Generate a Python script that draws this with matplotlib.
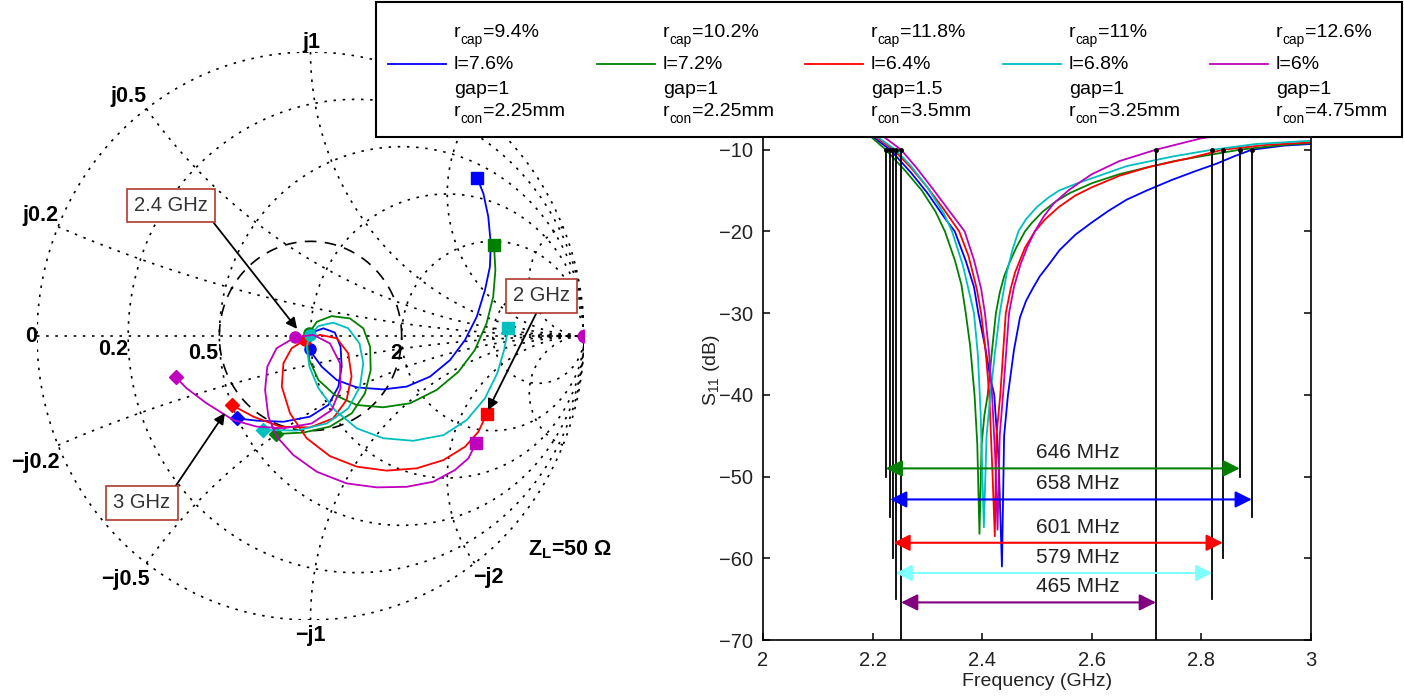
import numpy as np
import matplotlib
matplotlib.use("Agg")
import matplotlib.pyplot as plt
from matplotlib.patches import Rectangle
from matplotlib.lines import Line2D

plt.rcParams["font.family"] = ["Liberation Sans", "DejaVu Sans"]
plt.rcParams["mathtext.fontset"] = "custom"
plt.rcParams["mathtext.rm"] = "Liberation Sans"
plt.rcParams["mathtext.bf"] = "Liberation Sans:bold"
plt.rcParams["mathtext.it"] = "Liberation Sans:italic"

# ---- data (order: blue, green, red, cyan, magenta) ----
colors = ["#0000ff", "#008000", "#ff0000", "#00bfbf", "#bf00bf"]
rcap = ["9.4%", "10.2%", "11.8%", "11%", "12.6%"]
l_pct = ["7.6%", "7.2%", "6.4%", "6.8%", "6%"]
gap = ["1", "1", "1.5", "1", "1"]
rcon = ["2.25mm", "2.25mm", "3.5mm", "3.25mm", "4.75mm"]

# S11 (dB) vs frequency (GHz)
blue_f = [2.00, 2.10, 2.20, 2.232, 2.27, 2.30, 2.33, 2.350, 2.370, 2.385,
          2.393, 2.405, 2.415, 2.422, 2.430, 2.436, 2.440, 2.447, 2.458, 2.469,
          2.480, 2.492, 2.505, 2.52, 2.541, 2.570, 2.598, 2.63, 2.664, 2.70,
          2.746, 2.79, 2.828, 2.86, 2.892, 2.95, 3.00]
blue_db = [-2.8, -4.8, -8.4, -10.0, -12.8, -15.3, -18.2, -20.0, -23.6, -26.8,
           -30.0, -34.0, -38.0, -40.0, -48.0, -61.0, -45.0, -40.0, -34.5, -30.5,
           -28.5, -27.0, -25.5, -24.2, -22.3, -20.4, -19.0, -17.5, -16.1, -15.0,
           -13.7, -12.6, -11.7, -10.8, -10.0, -9.5, -9.3]
green_f = [2.00, 2.10, 2.19, 2.224, 2.26, 2.29, 2.315, 2.332, 2.350, 2.362,
           2.370, 2.378, 2.386, 2.391, 2.395, 2.399, 2.404, 2.410, 2.418, 2.425,
           2.432, 2.440, 2.450, 2.462, 2.478, 2.49, 2.51, 2.535, 2.56, 2.60,
           2.65, 2.705, 2.75, 2.80, 2.87, 2.95, 3.00]
green_db = [-3.0, -5.0, -8.0, -10.0, -12.6, -15.0, -17.6, -20.0, -23.5, -26.5,
            -30.0, -34.0, -40.0, -46.0, -57.0, -46.0, -42.5, -40.0, -34.5, -30.0,
            -27.5, -25.5, -23.8, -22.0, -20.0, -19.0, -17.6, -16.3, -15.3, -14.1,
            -13.0, -12.1, -11.4, -10.8, -10.0, -9.4, -9.2]
red_f = [2.00, 2.10, 2.205, 2.238, 2.27, 2.30, 2.33, 2.358, 2.375, 2.390,
         2.398, 2.406, 2.413, 2.419, 2.423, 2.426, 2.433, 2.443, 2.452, 2.460,
         2.478, 2.496, 2.515, 2.54, 2.57, 2.60, 2.65, 2.705, 2.78, 2.839,
         2.92, 3.00]
red_db = [-2.6, -4.6, -8.4, -10.0, -12.2, -14.6, -17.3, -20.0, -23.0, -27.0,
          -30.0, -34.5, -40.0, -50.0, -57.3, -45.0, -40.0, -30.0, -27.0, -25.0,
          -22.0, -20.0, -18.5, -17.0, -15.6, -14.6, -13.2, -12.1, -11.0, -10.0,
          -9.4, -9.1]
cyan_f = [2.00, 2.10, 2.208, 2.242, 2.27, 2.30, 2.33, 2.345, 2.365, 2.385,
          2.392, 2.397, 2.403, 2.408, 2.415, 2.423, 2.432, 2.445, 2.455, 2.466,
          2.48, 2.50, 2.52, 2.54, 2.57, 2.60, 2.664, 2.75, 2.82, 2.90,
          3.00]
cyan_db = [-2.7, -4.7, -8.4, -10.0, -12.0, -14.6, -17.8, -20.0, -24.2, -30.0,
           -35.0, -42.0, -56.2, -45.0, -40.0, -35.0, -30.0, -25.0, -22.3, -20.0,
           -18.5, -17.0, -15.9, -15.0, -14.2, -13.5, -12.0, -10.8, -10.0, -9.3,
           -8.9]
mag_f = [2.00, 2.10, 2.22, 2.252, 2.28, 2.31, 2.34, 2.368, 2.385, 2.398,
         2.405, 2.412, 2.418, 2.424, 2.428, 2.432, 2.438, 2.449, 2.458, 2.470,
         2.483, 2.496, 2.512, 2.53, 2.557, 2.58, 2.60, 2.65, 2.717, 2.80,
         2.90, 3.00]
mag_db = [-2.4, -4.4, -8.4, -10.0, -12.2, -14.8, -17.5, -20.0, -23.5, -27.0,
          -30.0, -34.5, -40.0, -48.0, -56.5, -45.0, -40.0, -30.0, -26.8, -24.0,
          -21.8, -20.0, -18.2, -16.6, -15.0, -13.9, -13.0, -11.4, -10.0, -8.6,
          -7.6, -6.8]

# -10 dB bandwidth markers
bw_mhz = [658, 646, 601, 579, 465]
f_lo = [2.232, 2.224, 2.238, 2.242, 2.252]
f_hi = [2.892, 2.870, 2.839, 2.820, 2.717]
arrow_y = [-52.8, -49.0, -58.1, -61.8, -65.4]
line_bottom = [-55, -50, -60, -65, -70]
arrow_colors = ["#0000ff", "#008000", "#ff0000", "#80ffff", "#800080"]

# reflection coefficient, 2 GHz -> 3 GHz
blue_re = [0.610, 0.632, 0.650, 0.659, 0.656, 0.638, 0.608, 0.565, 0.510, 0.437,
           0.352, 0.266, 0.169, 0.096, 0.041, 0.010, -0.002, -0.014, 0.004, 0.047,
           0.089, 0.110, 0.114, 0.102, 0.065, -0.002, -0.099, -0.197, -0.270]
blue_im = [0.555, 0.502, 0.420, 0.326, 0.244, 0.162, 0.068, -0.014, -0.085, -0.143,
           -0.178, -0.188, -0.181, -0.155, -0.108, -0.067, -0.046, -0.020, 0.012, 0.027,
           0.012, -0.038, -0.108, -0.178, -0.243, -0.284, -0.302, -0.298, -0.290]
green_re = [0.671, 0.676, 0.668, 0.644, 0.601, 0.541, 0.461, 0.364, 0.266, 0.169,
            0.089, 0.029, -0.004, -0.012, -0.004, 0.023, 0.077, 0.144, 0.193, 0.218,
            0.220, 0.199, 0.151, 0.071, -0.026, -0.126]
green_im = [0.320, 0.232, 0.138, 0.045, -0.049, -0.126, -0.190, -0.237, -0.251, -0.243,
            -0.208, -0.155, -0.085, -0.026, 0.012, 0.050, 0.070, 0.062, 0.027, -0.038,
            -0.120, -0.202, -0.272, -0.319, -0.340, -0.345]
red_re = [0.644, 0.614, 0.565, 0.486, 0.388, 0.278, 0.169, 0.071, -0.014, -0.075,
          -0.105, -0.099, -0.069, -0.020, 0.035, 0.096, 0.138, 0.150, 0.132, 0.083,
          -0.002, -0.112, -0.209, -0.288]
red_im = [-0.275, -0.337, -0.390, -0.437, -0.466, -0.474, -0.460, -0.423, -0.360, -0.272,
          -0.178, -0.096, -0.043, -0.014, 0.004, -0.008, -0.061, -0.143, -0.225, -0.290,
          -0.322, -0.319, -0.284, -0.243]
cyan_re = [0.723, 0.708, 0.683, 0.638, 0.571, 0.486, 0.376, 0.266, 0.169, 0.089,
           0.029, -0.004, -0.014, -0.002, 0.029, 0.083, 0.138, 0.179, 0.193, 0.181,
           0.138, 0.059, -0.051, -0.173]
cyan_im = [0.027, -0.049, -0.131, -0.219, -0.296, -0.349, -0.369, -0.360, -0.325, -0.261,
           -0.184, -0.108, -0.038, 0.004, 0.035, 0.047, 0.027, -0.026, -0.096, -0.178,
           -0.255, -0.308, -0.333, -0.331]
mag_re = [0.605, 0.577, 0.528, 0.449, 0.352, 0.242, 0.132, 0.023, -0.063, -0.124,
          -0.154, -0.166, -0.158, -0.124, -0.057, 0.010, 0.071, 0.108, 0.110, 0.077,
          0.004, -0.099, -0.197, -0.282, -0.380, -0.453, -0.492]
mag_im = [-0.378, -0.431, -0.472, -0.513, -0.531, -0.533, -0.519, -0.478, -0.419, -0.354,
          -0.284, -0.190, -0.108, -0.043, -0.005, 0.004, -0.026, -0.096, -0.184, -0.261,
          -0.308, -0.325, -0.319, -0.296, -0.237, -0.184, -0.146]
# 2.4 GHz points
mid_re = [-0.002, -0.004, -0.020, -0.002, -0.057]
mid_im = [-0.046, 0.012, -0.014, 0.004, -0.005]

s11_f = [blue_f, green_f, red_f, cyan_f, mag_f]
s11_db = [blue_db, green_db, red_db, cyan_db, mag_db]
g_re = [blue_re, green_re, red_re, cyan_re, mag_re]
g_im = [blue_im, green_im, red_im, cyan_im, mag_im]

grid_r = [0.2, 0.5, 1, 2, 5]
grid_x = [0.2, 0.5, 1, 2, 5]

W, H = 1404, 696


def fx(px):
    return px / W


def fy(py):
    return 1 - py / H


fig = plt.figure(figsize=(W / 100, H / 100), dpi=100)
renderer = fig.canvas.get_renderer()

# ---------------- Smith chart ----------------
ax_s = fig.add_axes([fx(37), fy(620), 547 / W, 568 / H])
ax_s.set_xlim(-1, 1)
ax_s.set_ylim(-1, 1)
ax_s.axis("off")

dot = (0, (1.5, 4))
t = np.linspace(0, 2 * np.pi, 600)
ax_s.plot(np.cos(t), np.sin(t), color="k", lw=1.2, ls=dot)
for r in grid_r:
    c = r / (1 + r)
    rad = 1 / (1 + r)
    ax_s.plot(c + rad * np.cos(t), rad * np.sin(t), color="k", lw=1.2, ls=dot)
rr = np.concatenate([np.linspace(0, 1, 200), np.logspace(0, 3, 300)])
for x in grid_x:
    for s in (1, -1):
        z = rr + 1j * s * x
        g = (z - 1) / (z + 1)
        ax_s.plot(g.real, g.imag, color="k", lw=1.2, ls=dot)
ax_s.plot([-1, 1], [0, 0], color="k", lw=1.2, ls=dot)
ax_s.plot(np.cos(t) / 3, np.sin(t) / 3, color="k", lw=1.2, ls=(0, (7, 5)))

for i in range(5):
    c = colors[i]
    ax_s.plot(g_re[i], g_im[i], color=c, lw=1.3)
    ax_s.plot(g_re[i][0], g_im[i][0], "s", ms=9, color=c)
    ax_s.plot(mid_re[i], mid_im[i], "o", ms=8, color=c)
    ax_s.plot(g_re[i][-1], g_im[i][-1], "D", ms=7, color=c)
ax_s.plot(1.0, 0.0, "o", ms=9, color=colors[4])

smith_labels = ["0", "0.2", "0.5", "2", "j0.2", "j0.5", "j1",
                "\u2212j0.2", "\u2212j0.5", "\u2212j1", "\u2212j2"]
label_pos = [(-1.022, 0.0), (-0.722, -0.046), (-0.393, -0.060), (0.313, -0.060),
             (-0.989, 0.423), (-0.664, 0.845), (0.005, 1.035),
             (-1.004, -0.444), (-0.678, -0.859), (-0.002, -1.053), (0.649, -0.849)]
for lab, (lx, ly) in zip(smith_labels, label_pos):
    ax_s.text(lx, ly, lab, fontsize=15.5, fontweight="bold", ha="center", va="center")
ax_s.text(0.949, -0.754, r"$\mathbf{Z_L}$=50 Ω", fontsize=15.5, fontweight="bold",
          ha="center", va="center")

box = dict(boxstyle="square,pad=0.35", fc="white", ec="#b03a2e", lw=1.2)
ax_s.annotate("2.4 GHz", xy=(-0.049, 0.025), xytext=(-0.510, 0.458),
              ha="center", va="center", fontsize=14.5, color="#333333", bbox=box,
              arrowprops=dict(arrowstyle="-|>", color="k", lw=1.3, mutation_scale=16,
                              shrinkA=0, shrinkB=0, relpos=(1, 0)))
ax_s.annotate("2 GHz", xy=(0.649, -0.261), xytext=(0.846, 0.141),
              ha="center", va="center", fontsize=14.5, color="#333333", bbox=box,
              arrowprops=dict(arrowstyle="-|>", color="k", lw=1.3, mutation_scale=16,
                              shrinkA=0, shrinkB=0, relpos=(0.47, 0)))
ax_s.annotate("3 GHz", xy=(-0.313, -0.271), xytext=(-0.616, -0.588),
              ha="center", va="center", fontsize=14.5, color="#333333", bbox=box,
              arrowprops=dict(arrowstyle="-|>", color="k", lw=1.3, mutation_scale=16,
                              shrinkA=0, shrinkB=0, relpos=(1, 1)))

# ---------------- S11 plot ----------------
ax = fig.add_axes([fx(763), fy(640), 548 / W, 572 / H])
for i in range(5):
    ax.plot(s11_f[i], s11_db[i], color=colors[i], lw=1.3)

order = [1, 0, 2, 3, 4]
for i in order:
    for f in (f_lo[i], f_hi[i]):
        ax.plot([f, f], [-10, line_bottom[i]], color="k", lw=1.3)
        ax.plot(f, -10, ".", color="k", ms=5)
    ax.annotate("", xy=(f_hi[i], arrow_y[i]), xytext=(f_lo[i], arrow_y[i]),
                arrowprops=dict(arrowstyle="<|-|>,head_length=0.5,head_width=0.25",
                                color=arrow_colors[i], lw=1.5, mutation_scale=20,
                                shrinkA=0, shrinkB=0))
    ax.text(2.575, arrow_y[i] + 1.9, f"{bw_mhz[i]} MHz", ha="center", va="center",
            fontsize=15, color="#222222")

ax.set_xlim(2, 3)
ax.set_ylim(-70, 0)
ax.set_xticks([2, 2.2, 2.4, 2.6, 2.8, 3])
ax.set_xticklabels(["2", "2.2", "2.4", "2.6", "2.8", "3"])
ax.set_yticks(np.arange(-70, 1, 10))
ax.tick_params(direction="in", top=True, right=True, length=5, width=1.1,
               labelsize=14.5, labelcolor="#222222")
ax.tick_params(axis="x", pad=8)
ax.tick_params(axis="y", pad=7)
for sp in ax.spines.values():
    sp.set_linewidth(1.2)
ax.set_xlabel("Frequency (GHz)", fontsize=14, color="#222222")
ax.xaxis.set_label_coords(0.5, -(673 - 640) / 572)
ax.set_ylabel(r"$\mathrm{S_{11}}$ (dB)", fontsize=14, color="#222222")
ax.yaxis.set_label_coords((722 - 763) / 548, (640 - 370) / 572)

# ---------------- legend box ----------------
fig.add_artist(Rectangle((fx(376), fy(137)), (1402 - 376) / W, 135 / H,
                         transform=fig.transFigure, fc="white", ec="k", lw=1.5, zorder=10))


def leg_text(x, by, parts, size=14):
    # parts: list of (text, is_subscript)
    for txt, is_sub in parts:
        if is_sub:
            tt = fig.text(x, fy(by + 7), txt, fontsize=size * 0.7, va="baseline", zorder=11)
        else:
            tt = fig.text(x, fy(by), txt, fontsize=size, va="baseline", zorder=11)
        x += tt.get_window_extent(renderer).width / W


leg_x = [388, 597, 805, 1003, 1210]
for i in range(5):
    lx = leg_x[i]
    fig.add_artist(Line2D([fx(lx), fx(lx + 58)], [fy(64), fy(64)], transform=fig.transFigure,
                          color=colors[i], lw=1.3, zorder=11))
    tx = fx(lx + 66)
    leg_text(tx, 37, [("r", False), ("cap", True), ("=" + rcap[i], False)])
    leg_text(tx, 69, [("l=" + l_pct[i], False)])
    leg_text(tx, 94, [("gap=" + gap[i], False)])
    leg_text(tx, 116, [("r", False), ("con", True), ("=" + rcon[i], False)])

fig.savefig("out.png", dpi=100)
